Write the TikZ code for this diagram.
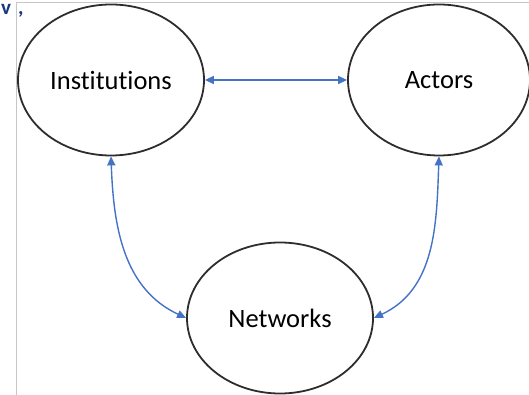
\documentclass[tikz,border=0pt]{standalone}
\usepackage{fontspec}
\setmainfont[Ligatures=NoCommon]{Carlito}
\usepackage{tikz}
\usetikzlibrary{shapes.geometric}
\usetikzlibrary{arrows.meta}
\usepackage{xcolor}
\definecolor{linkblue}{RGB}{68,114,196}
\definecolor{headblue}{RGB}{24,54,128}
\definecolor{rimgray}{RGB}{45,45,45}

\begin{document}
\begin{tikzpicture}[x=1pt,y=1pt,
  blob/.style={ellipse, draw=rimgray, line width=1.8pt, inner sep=0pt,
    minimum width=186pt, minimum height=151pt, font=\fontsize{26.5}{30}\selectfont},
  link/.style={linkblue, line width=1.4pt, {Triangle[length=9pt,width=8pt]}-{Triangle[length=9pt,width=8pt]}}]

\useasboundingbox (0,0) rectangle (529,395);

% frame and the heading above it
\draw[gray!45, line width=1pt] (16,0)--(16,392)--(529,392);
\node[anchor=base west, inner sep=0pt, text=headblue, font=\fontsize{21}{24}\selectfont\bfseries] (head) at (1,380) {v\kern7pt,};

\node at (111,315) [blob] (inst) {Institutions};
\node at (439,315) [blob, minimum width=182pt] (act) {Actors};
\node at (280,77) [blob] (net) {Networks};

\draw[link] (inst.east) -- (act.west);
\draw[link] (inst.south) to [out=-88,in=155] (net.west);
\draw[link] (act.south) to [out=-92,in=25] (net.east);

\end{tikzpicture}
\end{document}
